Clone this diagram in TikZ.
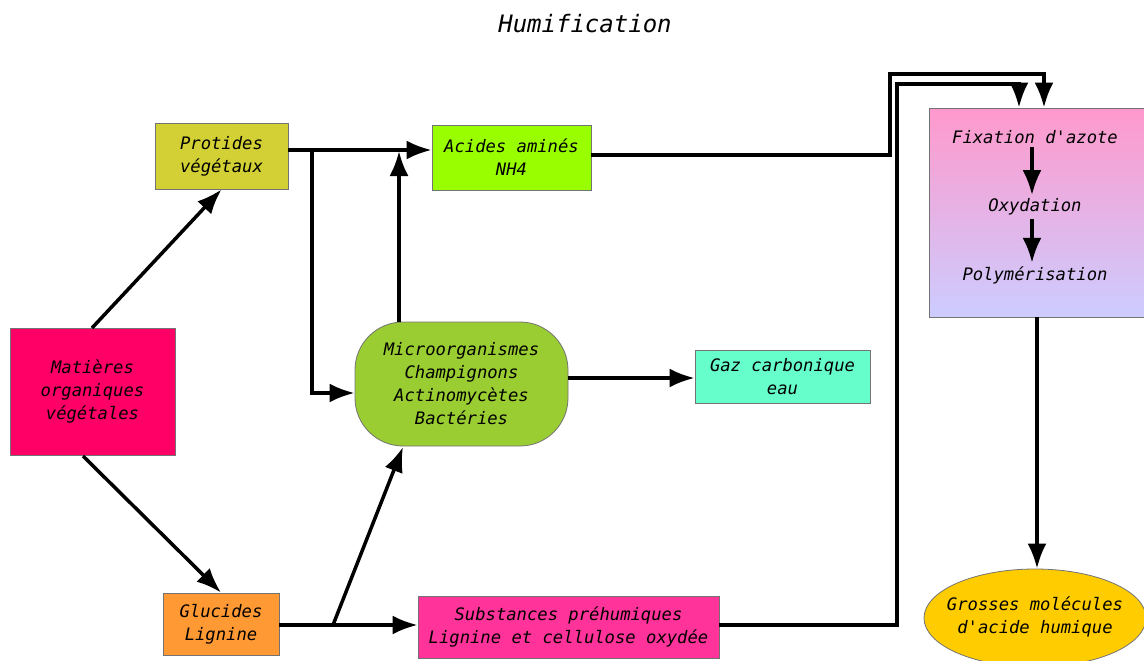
\documentclass[tikz,border=0pt]{standalone}
\usepackage{fontspec}
\setmonofont{DejaVu Sans Mono}
\usetikzlibrary{arrows.meta,shapes.geometric}
\begin{document}
\begin{tikzpicture}[x=1pt,y=-1pt,
  txt/.style={font=\fontsize{17.2}{23}\selectfont\ttfamily\itshape, align=center},
  box/.style={txt, draw=black!55, line width=0.8pt, inner sep=0pt},
  conn/.style={line width=3.5pt, -{Latex[length=25pt,width=19pt]}}]
\useasboundingbox (0,0) rectangle (1144,661);
\definecolor{protc}{RGB}{210,208,52}
\definecolor{acidc}{RGB}{153,255,0}
\definecolor{matc}{RGB}{255,0,102}
\definecolor{microc}{RGB}{154,205,50}
\definecolor{gazc}{RGB}{102,255,204}
\definecolor{glucc}{RGB}{255,153,51}
\definecolor{subc}{RGB}{255,51,153}
\definecolor{fixtop}{RGB}{255,153,204}
\definecolor{fixbot}{RGB}{204,204,255}
\definecolor{grossc}{RGB}{255,204,0}

\node[txt, font=\fontsize{24}{28}\selectfont\ttfamily\itshape] (title) at (585,24) {Humification};

\node[box, fill=protc, minimum width=133pt, minimum height=66pt] (prot) at (221.5,156) {Protides\\végétaux};
\node[box, fill=acidc, minimum width=159pt, minimum height=65pt] (acid) at (511.5,157.5) {Acides aminés\\NH4};
\node[box, fill=matc, minimum width=165pt, minimum height=127pt] (mat) at (92.5,391.5) {Matières\\organiques\\végétales};
\node[box, fill=microc, rounded corners=48pt, minimum width=213pt, minimum height=124pt] (micro) at (461.5,384) {Microorganismes\\Champignons\\Actinomycètes\\Bactéries};
\node[box, fill=gazc, minimum width=175pt, minimum height=53pt] (gaz) at (782.5,376.5) {Gaz carbonique\\eau};
\node[box, fill=glucc, minimum width=116pt, minimum height=62pt] (gluc) at (221,624) {Glucides\\Lignine};
\node[box, fill=subc, minimum width=301pt, minimum height=62pt] (sub) at (568.5,627) {Substances préhumiques\\Lignine et cellulose oxydée};
\node[box, top color=fixtop, bottom color=fixbot, minimum width=218pt, minimum height=209pt] (fix) at (1038,212.5) {};
\node[txt] (f1) at (1035,137) {Fixation d'azote};
\node[txt] (f2) at (1035,207) {Oxydation};
\node[txt] (f3) at (1035,275) {Polymérisation};
\node[box, ellipse, fill=grossc, minimum width=222pt, minimum height=98pt] (gross) at (1035,618) {};
\node[txt] (grosst) at (1035,617) {Grosses molécules\\d'acide humique};

% connectors
\draw[conn] (92,328) -- (prot.south);
\draw[conn] (83,456) -- (gluc.north);
\draw[conn] (prot.east |- 0,150) -- (acid.west |- 0,150);
\coordinate (b1) at (312,150);
\draw[conn] (b1) |- (micro.west |- 0,393);
\draw[conn] (micro.north -| 399,0) -- (399,151);
\draw[conn] (micro.east |- 0,378) -- (gaz.west |- 0,378);
\draw[conn] (gluc.east |- 0,625) -- (sub.west |- 0,625);
\coordinate (b2) at (333,625);
\draw[conn] (b2) -- (403,447);
\draw[conn] (acid.east |- 0,155) -- (890,155) -- (890,74) -- (1044,74) -- (fix.north -| 1044,0);
\draw[conn] (sub.east |- 0,625) -- (897,625) -- (897,84) -- (1019,84) -- (fix.north -| 1019,0);
\draw[conn] (fix.south -| 1037,0) -- (gross.north -| 1037,0);
\draw[conn] (f1.south -| 1032,0) -- (f2.north -| 1032,0);
\draw[conn] (f2.south -| 1032,0) -- (f3.north -| 1032,0);
\end{tikzpicture}
\end{document}
